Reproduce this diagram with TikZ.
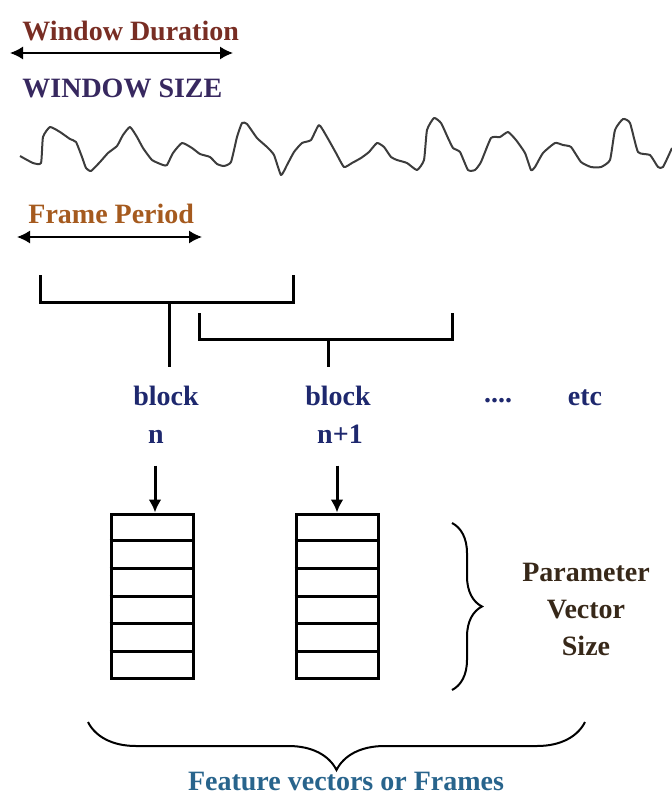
\documentclass[tikz,border=0pt]{standalone}
\usepackage{fontspec}
\setmainfont{Liberation Serif}
\usetikzlibrary{positioning,calc,arrows.meta,decorations.pathreplacing}
\definecolor{durclr}{RGB}{120,45,35}
\definecolor{sizeclr}{RGB}{55,40,95}
\definecolor{perclr}{RGB}{165,90,30}
\definecolor{blkclr}{RGB}{30,40,110}
\definecolor{parclr}{RGB}{55,40,25}
\definecolor{featclr}{RGB}{40,100,140}
\definecolor{waveclr}{RGB}{60,60,60}
\tikzset{ %
  ,>={Latex[length=6.5pt,width=6.5pt]}
  ,every node/.style={font=\fontsize{14}{18.5}\selectfont\bfseries, inner sep=0}
  ,lbl/.style={text height=10pt, text depth=0pt}
  ,span/.style={<->, line width=0.75pt}
  ,bracket/.style={line width=1.5pt}
  ,vec/.style={draw, line width=1.5pt, minimum width=41pt, minimum height=82pt}
  ,feed/.style={->, line width=1.5pt}
  ,brc/.style={decorate, line width=1pt, decoration={brace, amplitude=#1}}
}
\begin{document}
\begin{tikzpicture}[x=0.5pt, y=-0.5pt]
  \useasboundingbox (0,0) rectangle (672,804);
  % window size
  \node[lbl, anchor=base west, text=durclr] (wdur) at (22,40) {Window Duration};
  \coordinate (wl) at (10,53);
  \coordinate (wr) at (233,53);
  \draw[span] (wl) -- (wr);
  \node[lbl, anchor=base west, text=sizeclr] (wsize) at (22,97) {WINDOW SIZE};
  % speech signal
  \draw[waveclr, line width=1pt, line join=round] plot[smooth, tension=0.3] coordinates {
    (20,156) (33,163) (41,163) (43,137) (50,127) (60,132) (70,139) (76,142)
    (82,157) (86,168) (91,171) (100,162) (108,153) (117,146) (123,135) (130,127)
    (137,137) (143,148) (152,160) (163,165) (167,165) (173,153) (182,143) (192,148)
    (200,154) (210,157) (217,164) (224,166) (231,162) (237,137) (242,123) (247,124)
    (257,138) (267,147) (274,155) (281,175) (287,165) (294,152) (302,143) (311,140)
    (319,125) (327,137) (336,153) (344,167) (352,163) (361,158) (369,152) (377,143)
    (384,147) (391,157) (397,160) (407,163) (417,170) (424,160) (427,130) (434,118)
    (441,123) (448,138) (453,148) (460,152) (468,170) (475,170) (481,162) (491,138)
    (500,137) (508,132) (516,140) (525,153) (531,170) (535,167) (543,153) (555,143)
    (563,145) (571,147) (581,162) (591,167) (601,167) (610,160) (615,130) (623,119)
    (630,123) (638,152) (650,155) (658,167) (663,167) (672,148)};
  % frame period
  \node[lbl, anchor=base west, text=perclr] (fper) at (28,223) {Frame Period};
  \coordinate (fl) at (17,237);
  \coordinate (fr) at (202,237);
  \draw[span] (fl) -- (fr);
  % blocks
  \node[lbl, anchor=base, text=blkclr] (blkA) at (166,405) {block};
  \node[lbl, below=9pt of blkA, xshift=-5pt, text=blkclr] (numA) {n};
  \node[lbl, anchor=base, text=blkclr] (blkB) at (338,405) {block};
  \node[lbl, below=9pt of blkB, xshift=1pt, text=blkclr] (numB) {n+1};
  \node[lbl, anchor=base, text=blkclr] (dots) at (498,402) {....};
  \node[lbl, anchor=base, text=blkclr] (etc) at (585,405) {etc};
  \coordinate (brA) at (169,302);
  \coordinate (stA) at (169,367);
  \coordinate (brB) at (328,339);
  \coordinate (stB) at (328,367);
  \draw[bracket] (40,275) -- (40,302) -- (293,302) -- (293,275);
  \draw[bracket] (199,313) -- (199,339) -- (452,339) -- (452,313);
  \draw[bracket] (brA) -- (stA);
  \draw[bracket] (brB) -- (stB);
  % feature vectors
  \node[vec] (vecA) at (152,596) {};
  \node[vec] (vecB) at (337,596) {};
  \foreach \v in {vecA,vecB}
    \foreach \i in {1,...,5}
      \draw[line width=1.5pt] ($(\v.north west)!\i/6!(\v.south west)$) -- ($(\v.north east)!\i/6!(\v.south east)$);
  \draw[feed] ($(vecA.north)+(3,-47)$) -- ($(vecA.north)+(3,0)$);
  \draw[feed] ($(vecB.north)+(0,-47)$) -- (vecB.north);
  % braces
  \coordinate (pt) at (452,523);
  \coordinate (pb) at (452,690);
  \draw[brc=15pt] (pt) -- (pb);
  \node[anchor=north, align=center, text=parclr] (param) at (586,563) {Parameter\\Vector\\Size};
  \coordinate (fr2) at (585,722);
  \coordinate (fl2) at (88,722);
  \draw[brc=24pt] (fr2) -- (fl2);
  \node[lbl, anchor=base, text=featclr] (feat) at (346,790) {Feature vectors or Frames};
\end{tikzpicture}
\end{document}
